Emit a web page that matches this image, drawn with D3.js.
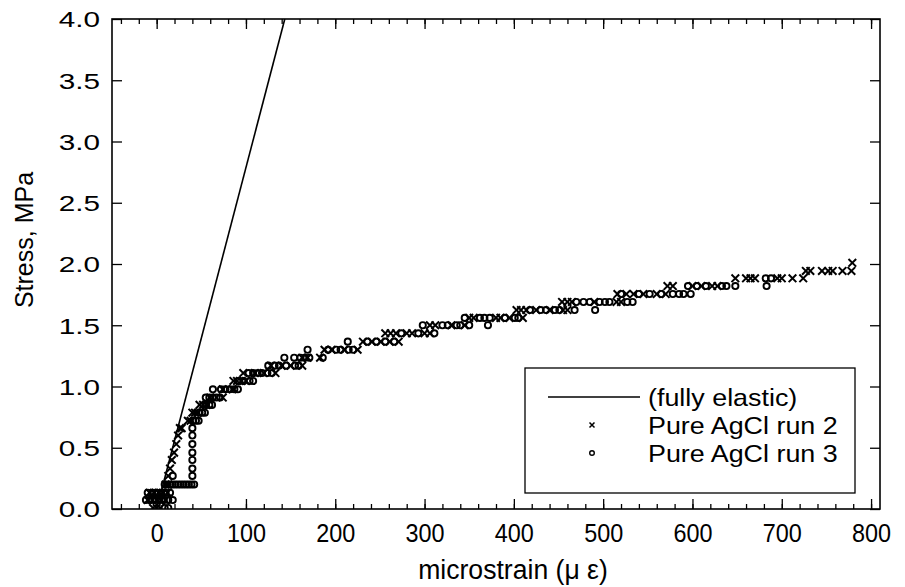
<!DOCTYPE html>
<html>
<head>
<meta charset="utf-8">
<script src="https://cdn.jsdelivr.net/npm/d3@7/dist/d3.min.js"></script>
<style>
  html, body { margin: 0; padding: 0; background: #fff; }
  svg { display: block; }
  text { font-family: "Liberation Sans", Arial, Helvetica, sans-serif; fill: #000; }
</style>
</head>
<body>
<svg id="chart" width="905" height="587"></svg>
<script>
// Axis ranges and ticks
const xDomain = [-50, 810];
const yDomain = [0, 4];
const xMajorTicks = [0, 100, 200, 300, 400, 500, 600, 700, 800];
const xMinorTicks = d3.range(-40, 810, 20);
const yTicks = [0, 0.5, 1.0, 1.5, 2.0, 2.5, 3.0, 3.5, 4.0];

// Fully elastic reference line (strain in microstrain, stress in MPa)
const elasticLine = [[0, 0], [143.5, 4.0]];

// Pure AgCl run 2: [microstrain, stress MPa]
const run2 = [
  [-4, 0.008], [0, 0.008], [4, 0.008],
  [-10, 0.073], [-5, 0.073], [0, 0.073], [5, 0.073], [10, 0.073],
  [-8, 0.133], [-3, 0.133], [2, 0.133], [7, 0.133], [12, 0.133],
  [10, 0.20], [13, 0.20],
  [13, 0.27], [15, 0.33], [17, 0.40], [19.5, 0.46], [22, 0.53], [24, 0.60],
  [26, 0.66], [28, 0.66],
  [35, 0.72], [38, 0.72],
  [40, 0.786], [43, 0.786], [46, 0.786],
  [48, 0.85], [52, 0.85], [56, 0.85],
  [60, 0.91], [74, 0.91],
  [74, 0.977], [85, 0.977],
  [86, 1.045], [90, 1.045], [95, 1.045], [100, 1.045],
  [97, 1.11], [110, 1.11], [120, 1.11], [133, 1.11],
  [128, 1.17], [140, 1.17], [150, 1.17], [163, 1.17],
  [163, 1.235], [169, 1.235], [183, 1.235],
  [188, 1.30], [196, 1.30], [210, 1.30], [225, 1.30],
  [231, 1.366], [241, 1.366], [251, 1.366], [261, 1.366], [271, 1.366],
  [256, 1.434], [262, 1.434], [268, 1.434], [280, 1.434], [286, 1.434], [300, 1.434], [306, 1.434],
  [306, 1.50], [312, 1.50], [330, 1.50], [345, 1.50],
  [350, 1.56], [355, 1.56], [380, 1.56], [385, 1.56], [395, 1.56], [410, 1.56],
  [403, 1.624], [408, 1.624], [414, 1.624], [425, 1.624], [440, 1.624], [455, 1.624], [460, 1.624],
  [454, 1.69], [460, 1.69], [465, 1.69], [490, 1.69], [515, 1.69], [520, 1.69],
  [516, 1.755], [526, 1.755], [534, 1.755], [545, 1.755], [560, 1.755], [570, 1.755],
  [572, 1.82], [578, 1.82], [600, 1.82], [610, 1.82], [622, 1.82], [628, 1.82],
  [648, 1.883], [660, 1.883], [665, 1.883], [670, 1.883], [695, 1.883], [700, 1.883], [712, 1.883], [724, 1.883],
  [727, 1.943], [732, 1.943], [745, 1.943], [752, 1.943], [757, 1.943], [768, 1.943], [778, 1.943],
  [779, 2.01]
];

// Pure AgCl run 3: [microstrain, stress MPa]
const run3 = [
  [9, 0.008], [13, 0.008],
  [-12, 0.073], [-7, 0.073], [-2, 0.073], [3, 0.073], [8, 0.073], [13, 0.073], [18, 0.073],
  [-10, 0.133], [-5, 0.133], [0, 0.133], [5, 0.133], [10, 0.133], [15, 0.133],
  [9, 0.20], [12, 0.20], [15, 0.20], [18, 0.20], [21, 0.20], [24, 0.20],
  [27, 0.20], [30, 0.20], [33, 0.20], [36, 0.20], [39, 0.20], [42, 0.20],
  [18, 0.27], [40, 0.27], [40, 0.33], [40, 0.40], [40, 0.46], [40, 0.53], [40, 0.60], [40, 0.66],
  [41, 0.72], [44, 0.72], [47, 0.72],
  [48, 0.786], [51, 0.786], [54, 0.786],
  [55, 0.85], [59, 0.85], [62, 0.85],
  [55, 0.91], [59, 0.91], [63, 0.91], [67, 0.91], [71, 0.91],
  [63, 0.977], [72, 0.977], [77, 0.977], [82, 0.977], [87, 0.977], [91, 0.977],
  [92, 1.045], [97, 1.045], [104, 1.045], [108, 1.045],
  [103, 1.11], [108, 1.11], [113, 1.11], [118, 1.11], [124, 1.11], [129, 1.11],
  [125, 1.17], [132, 1.17], [137, 1.17], [145, 1.17], [155, 1.17], [159, 1.17],
  [143, 1.235], [154, 1.235], [161, 1.235], [166, 1.235], [171, 1.235], [186, 1.235],
  [169, 1.30], [192, 1.30], [201, 1.30], [206, 1.30], [215, 1.30], [220, 1.30],
  [214, 1.366], [236, 1.366], [246, 1.366], [256, 1.366], [266, 1.366],
  [274, 1.434], [293, 1.434], [311, 1.434],
  [298, 1.50], [320, 1.50], [326, 1.50], [336, 1.50], [340, 1.50], [350, 1.50], [371, 1.50],
  [345, 1.56], [362, 1.56], [367, 1.56], [373, 1.56], [390, 1.56], [401, 1.56], [405, 1.56],
  [418, 1.624], [430, 1.624], [436, 1.624], [446, 1.624], [451, 1.624], [468, 1.624], [491, 1.624],
  [470, 1.69], [478, 1.69], [485, 1.69], [496, 1.69], [502, 1.69], [507, 1.69], [527, 1.69], [533, 1.69],
  [520, 1.755], [540, 1.755], [552, 1.755], [565, 1.755], [578, 1.755], [585, 1.755], [590, 1.755], [598, 1.755],
  [595, 1.82], [605, 1.82], [615, 1.82], [633, 1.82], [638, 1.82], [648, 1.82], [683, 1.82],
  [682, 1.883], [688, 1.883]
];

const legendLabels = ["(fully elastic)", "Pure AgCl run 2", "Pure AgCl run 3"];

// Layout
const plot = { left: 112, top: 19, right: 880, bottom: 509 };
const svg = d3.select("#chart");

const x = d3.scaleLinear().domain(xDomain).range([plot.left, plot.right]);
const y = d3.scaleLinear().domain(yDomain).range([plot.bottom, plot.top]);

svg.append("defs").append("clipPath").attr("id", "plot-clip")
  .append("rect")
  .attr("x", plot.left).attr("y", plot.top)
  .attr("width", plot.right - plot.left).attr("height", plot.bottom - plot.top);

// Inward ticks on all four sides
function tickStyle(g) {
  g.select(".domain").remove();
  g.selectAll(".tick line").attr("stroke", "#000").attr("stroke-width", 1.3);
}

svg.append("g").attr("transform", `translate(0,${plot.bottom})`)
  .call(d3.axisBottom(x).tickValues(xMinorTicks).tickSize(-5).tickFormat(""))
  .call(tickStyle);
const xBottom = svg.append("g").attr("transform", `translate(0,${plot.bottom})`)
  .call(d3.axisBottom(x).tickValues(xMajorTicks).tickSize(-10).tickFormat(d3.format("d")))
  .call(tickStyle);
xBottom.selectAll(".tick text")
  .attr("font-size", 26).attr("y", 0).attr("dy", 0)
  .attr("transform", "translate(0,33) scale(0.9,1)");

svg.append("g").attr("transform", `translate(0,${plot.top})`)
  .call(d3.axisTop(x).tickValues(xMinorTicks).tickSize(-5).tickFormat(""))
  .call(tickStyle);
svg.append("g").attr("transform", `translate(0,${plot.top})`)
  .call(d3.axisTop(x).tickValues(xMajorTicks).tickSize(-10).tickFormat(""))
  .call(tickStyle);

const yLeft = svg.append("g").attr("transform", `translate(${plot.left},0)`)
  .call(d3.axisLeft(y).tickValues(yTicks).tickSize(-10).tickFormat(d3.format(".1f")))
  .call(tickStyle);
yLeft.selectAll(".tick text")
  .attr("font-size", 22)
  .attr("x", 0).attr("dy", "0.36em")
  .attr("text-anchor", "end")
  .attr("transform", "translate(-12,0) scale(1.35,1)");

svg.append("g").attr("transform", `translate(${plot.right},0)`)
  .call(d3.axisRight(y).tickValues(yTicks).tickSize(-10).tickFormat(""))
  .call(tickStyle);

// Frame
svg.append("rect")
  .attr("x", plot.left).attr("y", plot.top)
  .attr("width", plot.right - plot.left).attr("height", plot.bottom - plot.top)
  .attr("fill", "none").attr("stroke", "#000").attr("stroke-width", 1.6);

// Axis titles
svg.append("text")
  .attr("transform", "translate(513,579) scale(0.95,1)")
  .attr("text-anchor", "middle").attr("font-size", 28)
  .text("microstrain (μ ε)");
svg.append("text")
  .attr("transform", `translate(33,${(plot.top + plot.bottom) / 2 - 24}) rotate(-90)`)
  .attr("text-anchor", "middle").attr("font-size", 25)
  .text("Stress, MPa");

const layer = svg.append("g").attr("clip-path", "url(#plot-clip)");

// Elastic line
layer.append("path")
  .datum(elasticLine)
  .attr("d", d3.line().x(d => x(d[0])).y(d => y(d[1])))
  .attr("fill", "none").attr("stroke", "#000").attr("stroke-width", 1.6);

// Marker shapes
const cross = d3.symbol().type(d3.symbolX).size(40);

layer.append("g").selectAll("path")
  .data(run2).join("path")
  .attr("d", cross)
  .attr("transform", d => `translate(${x(d[0])},${y(d[1])})`)
  .attr("fill", "none").attr("stroke", "#000").attr("stroke-width", 2);

layer.append("g").selectAll("circle")
  .data(run3).join("circle")
  .attr("cx", d => x(d[0])).attr("cy", d => y(d[1]))
  .attr("r", 3.1)
  .attr("fill", "none").attr("stroke", "#000").attr("stroke-width", 1.9);

// Legend
const legend = svg.append("g");
legend.append("rect")
  .attr("x", 525).attr("y", 368).attr("width", 330).attr("height", 125)
  .attr("fill", "#fff").attr("stroke", "#000").attr("stroke-width", 1.3);
const rowY = [397, 425, 453];
legend.append("line")
  .attr("x1", 548).attr("x2", 640).attr("y1", rowY[0]).attr("y2", rowY[0])
  .attr("stroke", "#000").attr("stroke-width", 1.4);
legend.append("path")
  .attr("d", d3.symbol().type(d3.symbolX).size(18))
  .attr("transform", `translate(592,${rowY[1]})`)
  .attr("fill", "none").attr("stroke", "#000").attr("stroke-width", 1.5);
legend.append("circle")
  .attr("cx", 592).attr("cy", rowY[2]).attr("r", 2.3)
  .attr("fill", "none").attr("stroke", "#000").attr("stroke-width", 1.4);
legend.selectAll("text.lab")
  .data(legendLabels).join("text")
  .attr("class", "lab")
  .attr("transform", (d, i) => `translate(648,${rowY[i] + 9}) scale(1.12,1)`)
  .attr("font-size", 24)
  .text(d => d);
</script>
</body>
</html>
